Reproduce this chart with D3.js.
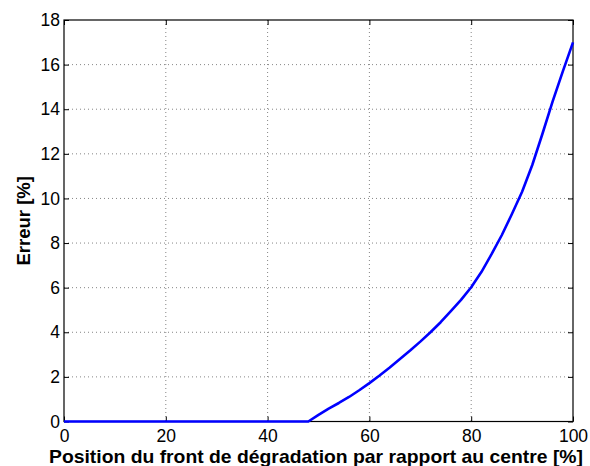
<!DOCTYPE html>
<html><head><meta charset="utf-8">
<script src="https://cdn.jsdelivr.net/npm/d3@7"></script>
<style>body{margin:0;background:#fff}svg{display:block}text{font-family:"Liberation Sans",Arial,sans-serif}</style>
</head><body>
<svg id="c" width="590" height="466"></svg>
<script>
const xValues = [0, 48, 50, 52, 54, 56, 58, 60, 62, 64, 66, 68, 70, 72, 74, 76, 78, 80, 82, 84, 86, 88, 90, 92, 94, 96, 98, 100];
const errValues = [0, 0, 0.3, 0.58, 0.83, 1.1, 1.4, 1.72, 2.06, 2.42, 2.8, 3.18, 3.58, 4.0, 4.45, 4.95, 5.45, 6.02, 6.7, 7.5, 8.35, 9.3, 10.3, 11.5, 12.9, 14.35, 15.7, 17.0];
const xTicks = [0, 20, 40, 60, 80, 100];
const yTicks = [0, 2, 4, 6, 8, 10, 12, 14, 16, 18];
const xLabel = "Position du front de dégradation par rapport au centre [%]";
const yLabel = "Erreur [%]";

const L = 64, R = 573, T = 20, B = 421.5;
const svg = d3.select("#c");
const x = d3.scaleLinear().domain([0, 100]).range([L, R]);
const y = d3.scaleLinear().domain([0, 18]).range([B, T]);

// grid
const g = svg.append("g");
g.selectAll(".gx").data(xTicks.slice(1, -1)).enter().append("line")
  .attr("x1", d => x(d)).attr("x2", d => x(d)).attr("y1", T).attr("y2", B)
  .attr("stroke", "#666").attr("stroke-width", 0.8).attr("stroke-dasharray", "1,3");
g.selectAll(".gy").data(yTicks.slice(1, -1)).enter().append("line")
  .attr("y1", d => y(d)).attr("y2", d => y(d)).attr("x1", L).attr("x2", R)
  .attr("stroke", "#666").attr("stroke-width", 0.8).attr("stroke-dasharray", "1,3");

// axes with inner ticks
const fs = "17.5px";
const ax = svg.append("g").attr("transform", `translate(0,${B})`)
  .call(d3.axisBottom(x).tickValues(xTicks).tickSize(-5).tickPadding(8).tickFormat(d3.format("d")));
const axTop = svg.append("g").attr("transform", `translate(0,${T})`)
  .call(d3.axisTop(x).tickValues(xTicks).tickSize(-5).tickFormat(""));
const ay = svg.append("g").attr("transform", `translate(${L},0)`)
  .call(d3.axisLeft(y).tickValues(yTicks).tickSize(-5).tickPadding(4).tickFormat(d3.format("d")));
const ayR = svg.append("g").attr("transform", `translate(${R},0)`)
  .call(d3.axisRight(y).tickValues(yTicks).tickSize(-5).tickFormat(""));
[ax, axTop, ay, ayR].forEach(a => {
  a.select(".domain").remove();
  a.selectAll("line").attr("stroke", "#000").attr("stroke-width", 1);
  a.selectAll("text").attr("fill", "#000").style("font-size", fs).style("font-family", '"Liberation Sans",Arial,sans-serif');
});
svg.append("rect").attr("x", L).attr("y", T).attr("width", R - L).attr("height", B - T)
  .attr("fill", "none").attr("stroke", "#000").attr("stroke-width", 1.2);

// line
const line = d3.line().x((d, i) => x(xValues[i])).y(d => y(d));
svg.append("path").datum(errValues).attr("d", line)
  .attr("fill", "none").attr("stroke", "#0000ff").attr("stroke-width", 2.6).attr("stroke-linejoin", "round");

// labels
svg.append("text").attr("x", 49).attr("y", 463)
  .attr("textLength", 534).attr("lengthAdjust", "spacingAndGlyphs")
  .style("font-size", "18.5px").style("font-weight", "bold").text(xLabel);
svg.append("text").attr("transform", `translate(29.5,${(T + B) / 2}) rotate(-90)`).attr("text-anchor", "middle")
  .style("font-size", "18.5px").style("font-weight", "bold").text(yLabel);
</script>
</body></html>
